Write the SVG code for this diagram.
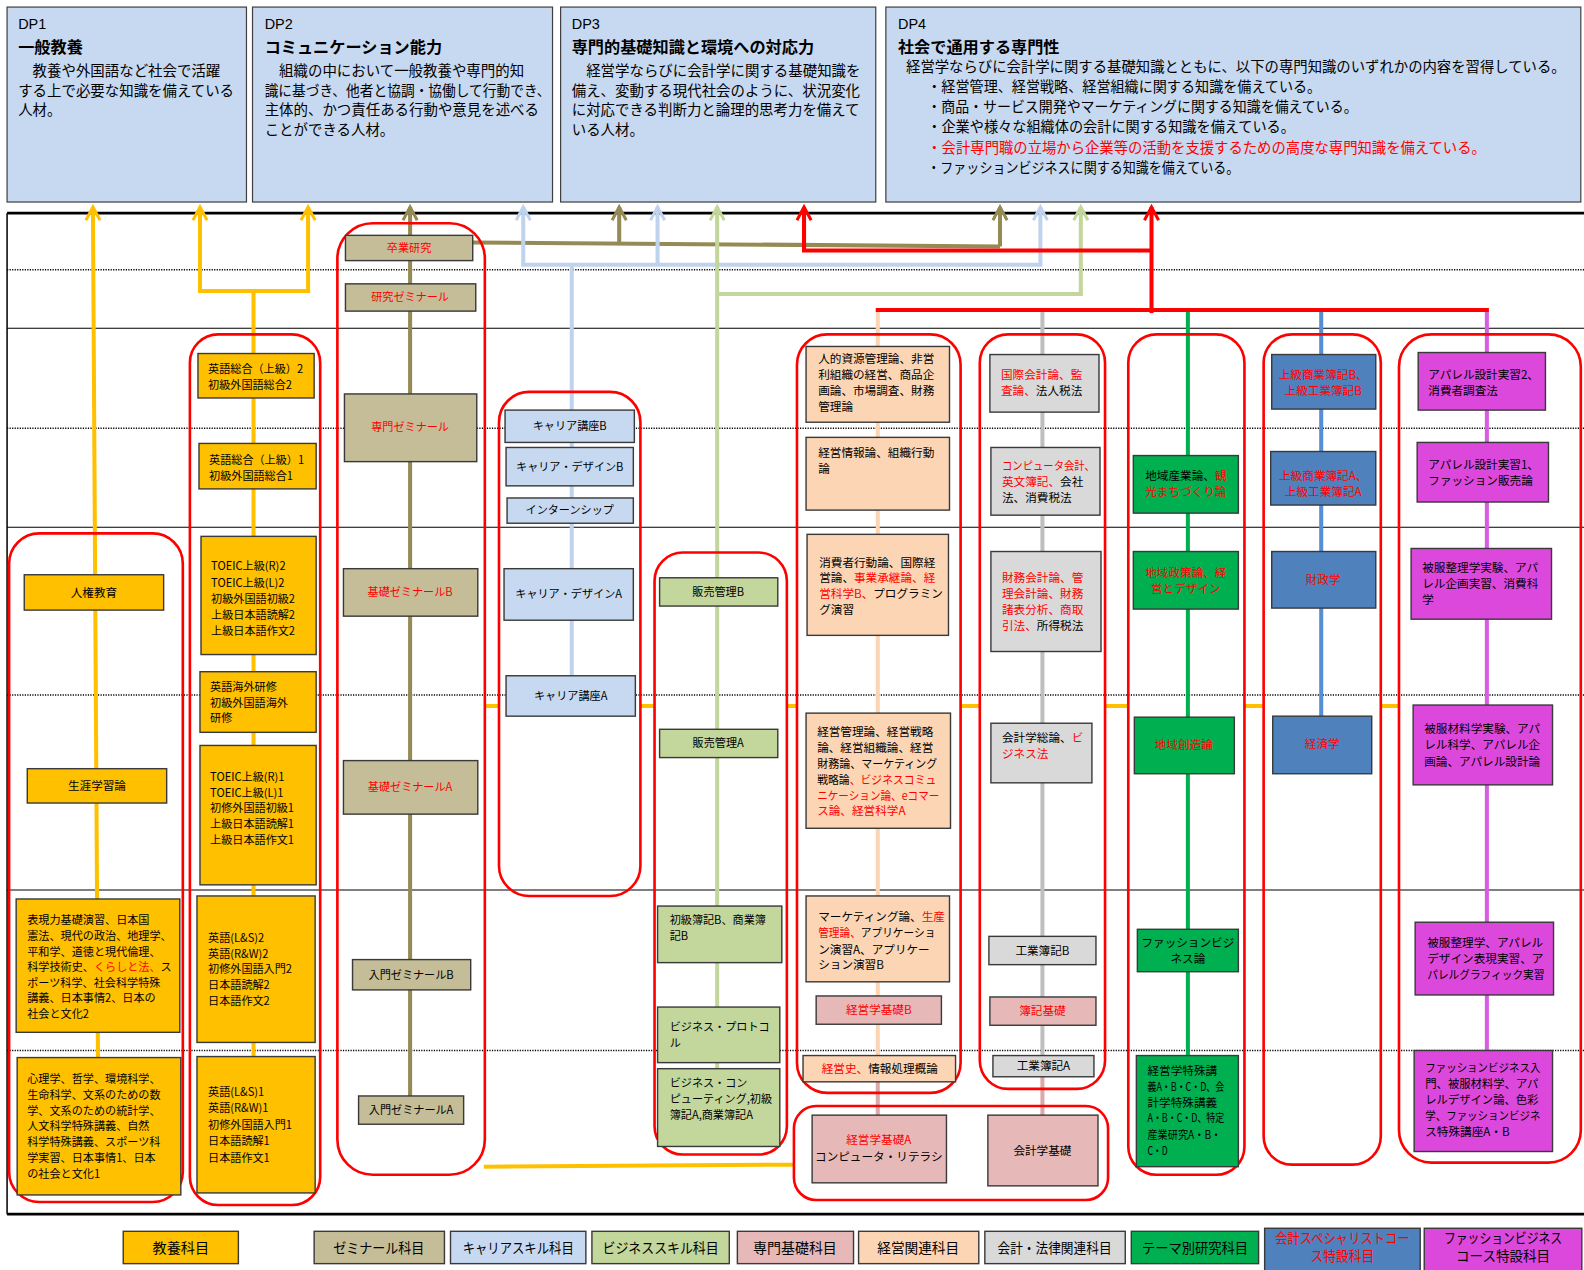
<svg xmlns="http://www.w3.org/2000/svg" width="1584" height="1270" viewBox="0 0 1584 1270">
<style>
text{font-family:"Noto Sans CJK JP","Noto Sans",sans-serif;fill:#000}
.lat{font-family:"Liberation Sans",Arial,sans-serif}
.t{font-size:11px}
.t2{font-size:11.5px}
.c{text-anchor:middle}
.r{fill:#ff0000}
.dpt{font-size:14.3px}
.dph{font-size:16px;font-weight:bold}
.dp{fill:#c6d9f0;stroke:#404040;stroke-width:1.2}
.grp{fill:none;stroke:#ff0000;stroke-width:2.6}
.bx{stroke:#3a3a3a;stroke-width:1.4}
.o{fill:#ffc000}.ol{fill:#c4bd97}.cb{fill:#c6d9f0}.bs{fill:#c3d69b}.pk{fill:#e6b9b8}.pc{fill:#fcd5b4}.gy{fill:#d9d9d9}.gn{fill:#00b050}.bl{fill:#4f81bd}.mg{fill:#dc48dc}
.grid{stroke:#000;stroke-width:1;fill:none}
.dot{stroke:#000;stroke-width:1.5;stroke-dasharray:1.2 1.3;fill:none}
.frame{stroke:#000;fill:none}
.ln{fill:none;stroke-width:4}
.lo{stroke:#ffc000}.lol{stroke:#948a54}.lcb{stroke:#bfd3ee}.lbs{stroke:#c3d69b}.lpc{stroke:#fcd5b4}.lpk{stroke:#dba9a8}.lgy{stroke:#bfbfbf}.lgn{stroke:#00b050}.lbl{stroke:#558ed5}.lmg{stroke:#d65ee0}.lr{stroke:#ff0000}
.lg{font-size:14px}
</style>
<defs>
<marker id="ao" markerUnits="userSpaceOnUse" markerWidth="18" markerHeight="18" refX="14" refY="9" orient="auto" overflow="visible"><path d="M1,2 L14,9 L1,16" fill="none" stroke="#ffc000" stroke-width="3"/></marker>
<marker id="aol" markerUnits="userSpaceOnUse" markerWidth="18" markerHeight="18" refX="14" refY="9" orient="auto" overflow="visible"><path d="M1,2 L14,9 L1,16" fill="none" stroke="#948a54" stroke-width="3"/></marker>
<marker id="acb" markerUnits="userSpaceOnUse" markerWidth="18" markerHeight="18" refX="14" refY="9" orient="auto" overflow="visible"><path d="M1,2 L14,9 L1,16" fill="none" stroke="#bfd3ee" stroke-width="3"/></marker>
<marker id="abs" markerUnits="userSpaceOnUse" markerWidth="18" markerHeight="18" refX="14" refY="9" orient="auto" overflow="visible"><path d="M1,2 L14,9 L1,16" fill="none" stroke="#c3d69b" stroke-width="3"/></marker>
<marker id="ar" markerUnits="userSpaceOnUse" markerWidth="18" markerHeight="18" refX="14" refY="9" orient="auto" overflow="visible"><path d="M1,2 L14,9 L1,16" fill="none" stroke="#ff0000" stroke-width="3"/></marker>
</defs>
<rect x="0" y="0" width="1584" height="1270" fill="#fff"/>
<g transform="scale(1.0101)">

<g id="dp1"><rect class="dp" x="7" y="7" width="237" height="193"/>
<text class="lat dpt" x="18" y="29">DP1</text>
<text class="dph" x="18" y="52">一般教養</text>
<text class="dpt" x="18" y="75">　教養や外国語など社会で活躍</text>
<text class="dpt" x="18" y="95">する上で必要な知識を備えている</text>
<text class="dpt" x="18" y="114">人材。</text></g>

<g id="dp2"><rect class="dp" x="250" y="7" width="297" height="193"/>
<text class="lat dpt" x="262" y="29">DP2</text>
<text class="dph" x="262" y="52">コミュニケーション能力</text>
<text class="dpt" x="262" y="75">　組織の中において一般教養や専門的知</text>
<text class="dpt" x="262" y="95" textLength="283" lengthAdjust="spacingAndGlyphs">識に基づき、他者と協調・協働して行動でき、</text>
<text class="dpt" x="262" y="114">主体的、かつ責任ある行動や意見を述べる</text>
<text class="dpt" x="262" y="134">ことができる人材。</text></g>

<g id="dp3"><rect class="dp" x="555" y="7" width="312" height="193"/>
<text class="lat dpt" x="566" y="29">DP3</text>
<text class="dph" x="566" y="52">専門的基礎知識と環境への対応力</text>
<text class="dpt" x="566" y="75">　経営学ならびに会計学に関する基礎知識を</text>
<text class="dpt" x="566" y="95">備え、変動する現代社会のように、状況変化</text>
<text class="dpt" x="566" y="114">に対応できる判断力と論理的思考力を備えて</text>
<text class="dpt" x="566" y="134">いる人材。</text></g>

<g id="dp4"><rect class="dp" x="877" y="7" width="688" height="193"/>
<text class="lat dpt" x="889" y="29">DP4</text>
<text class="dph" x="889" y="52">社会で通用する専門性</text>
<text class="dpt" x="897" y="71" textLength="653" lengthAdjust="spacingAndGlyphs">経営学ならびに会計学に関する基礎知識とともに、以下の専門知識のいずれかの内容を習得している。</text>
<text class="dpt" x="918" y="91" textLength="390" lengthAdjust="spacingAndGlyphs">・経営管理、経営戦略、経営組織に関する知識を備えている。</text>
<text class="dpt" x="918" y="111" textLength="426" lengthAdjust="spacingAndGlyphs">・商品・サービス開発やマーケティングに関する知識を備えている。</text>
<text class="dpt" x="918" y="131" textLength="364" lengthAdjust="spacingAndGlyphs">・企業や様々な組織体の会計に関する知識を備えている。</text>
<text class="dpt r" x="918" y="151" textLength="553" lengthAdjust="spacingAndGlyphs">・会計専門職の立場から企業等の活動を支援するための高度な専門知識を備えている。</text>
<text class="dpt" x="918" y="171" textLength="309" lengthAdjust="spacingAndGlyphs">・ファッションビジネスに関する知識を備えている。</text></g>

<g id="grid">
<path class="frame" stroke-width="2.6" d="M7,211 H1570 M7,1202 H1570"/>
<path class="frame" stroke-width="1.5" d="M7,211 V1202"/>
<path class="grid" d="M7,325 H1570 M7,522 H1570 M7,881 H1570"/>
<path class="dot" d="M7,267 H1570 M7,424 H1570 M7,688 H1570 M7,1040 H1570"/>
</g>

<g id="connectors">
<path class="ln lo" d="M97,1047 L92,205" marker-end="url(#ao)"/>
<path class="ln lo" d="M251,1046 V288"/>
<path class="ln lo" d="M196,288 H307" stroke-width="5"/>
<path class="ln lo" d="M198,288 V205" marker-end="url(#ao)"/>
<path class="ln lo" d="M305,288 V205" marker-end="url(#ao)"/>
<path class="ln lo" d="M480,699 H494 M634,699 H648 M779,699 H789 M951,699 H970 M1094,699 H1117 M1232,699 H1251 M1367,699 H1385"/>
<path class="ln lo" d="M479,1155 L786,1153"/>
<path class="ln lol" d="M406,1099 V205" marker-end="url(#aol)"/>
<path class="ln lol" d="M468,240 L990,244" stroke-width="6"/>
<path class="ln lol" d="M613,241 V205" marker-end="url(#aol)"/>
<path class="ln lol" d="M990,244 V205" marker-end="url(#aol)"/>
<path class="ln lcb" d="M566,690 V262"/>
<path class="ln lcb" d="M516,262 H1032" stroke-width="5"/>
<path class="ln lcb" d="M518,262 V205" marker-end="url(#acb)"/>
<path class="ln lcb" d="M651,262 V205" marker-end="url(#acb)"/>
<path class="ln lcb" d="M1030,262 V205" marker-end="url(#acb)"/>
<path class="ln lbs" d="M710,1060 V205" marker-end="url(#abs)"/>
<path class="ln lbs" d="M710,291 H1072" stroke-width="5"/>
<path class="ln lbs" d="M1070,291 V205" marker-end="url(#abs)"/>
<path class="ln lpc" d="M869,1045 V307"/>
<path class="ln lpk" d="M869,1071 V1104 M1032,1066 V1104"/>
<path class="ln lgy" d="M1032,1046 V307"/>
<path class="ln lgn" d="M1176,1045 V307"/>
<path class="ln lbl" d="M1308,709 V307"/>
<path class="ln lmg" d="M1472,1040 V307"/>
<path class="ln lr" d="M867,307 H1474" stroke-width="6"/>
<path class="ln lr" d="M1140,310 V205" stroke-width="4.5" marker-end="url(#ar)"/>
<path class="ln lr" d="M1140,248 H794" stroke-width="5"/>
<path class="ln lr" d="M796,248 V205" stroke-width="4" marker-end="url(#ar)"/>
</g>

<g id="col-general">
<rect class="grp" x="9" y="528" width="172" height="662" rx="30"/>
<g id="n-jinken"><rect class="bx o" x="24" y="569" width="138" height="35"/><text class="t2 c" x="93" y="591">人権教育</text></g>
<g id="n-shogai"><rect class="bx o" x="27" y="761" width="138" height="34"/><text class="t2 c" x="96" y="782">生涯学習論</text></g>
<g id="n-hyogen"><rect class="bx o" x="16" y="890" width="162" height="132"/>
<text class="t" x="27" y="915">表現力基礎演習、日本国</text>
<text class="t" x="27" y="931">憲法、現代の政治、地理学、</text>
<text class="t" x="27" y="946">平和学、道徳と現代倫理、</text>
<text class="t" x="27" y="961">科学技術史、<tspan class="r">くらしと法、</tspan>ス</text>
<text class="t" x="27" y="977">ポーツ科学、社会科学特殊</text>
<text class="t" x="27" y="992">講義、日本事情2、日本の</text>
<text class="t" x="27" y="1008">社会と文化2</text></g>
<g id="n-shinri"><rect class="bx o" x="17" y="1047" width="162" height="136"/>
<text class="t" x="27" y="1072">心理学、哲学、環境科学、</text>
<text class="t" x="27" y="1088">生命科学、文系のための数</text>
<text class="t" x="27" y="1104">学、文系のための統計学、</text>
<text class="t" x="27" y="1119">人文科学特殊講義、自然</text>
<text class="t" x="27" y="1135">科学特殊講義、スポーツ科</text>
<text class="t" x="27" y="1150">学実習、日本事情1、日本</text>
<text class="t" x="27" y="1166">の社会と文化1</text></g>
</g>

<g id="col-language">
<rect class="grp" x="188" y="331" width="129" height="862" rx="28"/>
<g id="n-eigo2"><rect class="bx o" x="196" y="350" width="115" height="44"/>
<text class="t" x="206" y="369">英語総合（上級）2</text><text class="t" x="206" y="385">初級外国語総合2</text></g>
<g id="n-eigo1"><rect class="bx o" x="197" y="439" width="116" height="45"/>
<text class="t" x="207" y="459">英語総合（上級）1</text><text class="t" x="207" y="475">初級外国語総合1</text></g>
<g id="n-toeic2"><rect class="bx o" x="199" y="531" width="114" height="117"/>
<text class="t" x="209" y="564">TOEIC上級(R)2</text><text class="t" x="209" y="581">TOEIC上級(L)2</text><text class="t" x="209" y="597">初級外国語初級2</text><text class="t" x="209" y="613">上級日本語読解2</text><text class="t" x="209" y="629">上級日本語作文2</text></g>
<g id="n-kaigai"><rect class="bx o" x="198" y="665" width="115" height="60"/>
<text class="t" x="208" y="684">英語海外研修</text><text class="t" x="208" y="700">初級外国語海外</text><text class="t" x="208" y="715">研修</text></g>
<g id="n-toeic1"><rect class="bx o" x="198" y="738" width="115" height="138"/>
<text class="t" x="208" y="773">TOEIC上級(R)1</text><text class="t" x="208" y="789">TOEIC上級(L)1</text><text class="t" x="208" y="804">初修外国語初級1</text><text class="t" x="208" y="820">上級日本語読解1</text><text class="t" x="208" y="836">上級日本語作文1</text></g>
<g id="n-ls2"><rect class="bx o" x="195" y="887" width="117" height="145"/>
<text class="t" x="206" y="933">英語(L&amp;S)2</text><text class="t" x="206" y="948">英語(R&amp;W)2</text><text class="t" x="206" y="963">初修外国語入門2</text><text class="t" x="206" y="979">日本語読解2</text><text class="t" x="206" y="995">日本語作文2</text></g>
<g id="n-ls1"><rect class="bx o" x="195" y="1046" width="117" height="135"/>
<text class="t" x="206" y="1085">英語(L&amp;S)1</text><text class="t" x="206" y="1101">英語(R&amp;W)1</text><text class="t" x="206" y="1118">初修外国語入門1</text><text class="t" x="206" y="1134">日本語読解1</text><text class="t" x="206" y="1150">日本語作文1</text></g>
</g>

<g id="col-seminar">
<rect class="grp" x="334" y="221" width="146" height="942" rx="35"/>
<g id="n-sotsugyo"><rect class="bx ol" x="342" y="233" width="126" height="25"/><text class="t c r" x="405" y="249">卒業研究</text></g>
<g id="n-kenkyu"><rect class="bx ol" x="342" y="281" width="129" height="27"/><text class="t c r" x="406" y="298">研究ゼミナール</text></g>
<g id="n-senmon"><rect class="bx ol" x="341" y="390" width="131" height="67"/><text class="t c r" x="406" y="427">専門ゼミナール</text></g>
<g id="n-kisoB"><rect class="bx ol" x="340" y="563" width="133" height="47"/><text class="t c r" x="406" y="590">基礎ゼミナールB</text></g>
<g id="n-kisoA"><rect class="bx ol" x="340" y="753" width="133" height="53"/><text class="t c r" x="406" y="783">基礎ゼミナールA</text></g>
<g id="n-nyumonB"><rect class="bx ol" x="349" y="950" width="117" height="30"/><text class="t c" x="407" y="969">入門ゼミナールB</text></g>
<g id="n-nyumonA"><rect class="bx ol" x="355" y="1085" width="104" height="28"/><text class="t c" x="407" y="1103">入門ゼミナールA</text></g>
</g>

<g id="col-career">
<rect class="grp" x="494" y="388" width="140" height="499" rx="30"/>
<g id="n-koza-b"><rect class="bx cb" x="500" y="406" width="128" height="32"/><text class="t c" x="564" y="426">キャリア講座B</text></g>
<g id="n-design-b"><rect class="bx cb" x="501" y="443" width="126" height="38"/><text class="t c" x="564" y="466">キャリア・デザインB</text></g>
<g id="n-intern"><rect class="bx cb" x="502" y="493" width="125" height="25"/><text class="t c" x="564" y="509">インターンシップ</text></g>
<g id="n-design-a"><rect class="bx cb" x="499" y="563" width="128" height="51"/><text class="t c" x="563" y="592">キャリア・デザインA</text></g>
<g id="n-koza-a"><rect class="bx cb" x="501" y="669" width="128" height="40"/><text class="t c" x="565" y="693">キャリア講座A</text></g>
</g>

<g id="col-business">
<rect class="grp" x="648" y="547" width="131" height="596" rx="28"/>
<g id="n-hanbaiB"><rect class="bx bs" x="653" y="572" width="117" height="28"/><text class="t c" x="711" y="590">販売管理B</text></g>
<g id="n-hanbaiA"><rect class="bx bs" x="653" y="722" width="117" height="28"/><text class="t c" x="711" y="740">販売管理A</text></g>
<g id="n-bokiB"><rect class="bx bs" x="651" y="897" width="123" height="56"/><text class="t" x="663" y="915">初級簿記B、商業簿</text><text class="t" x="663" y="931">記B</text></g>
<g id="n-protocol"><rect class="bx bs" x="651" y="997" width="121" height="55"/><text class="t" x="663" y="1021">ビジネス・プロトコ</text><text class="t" x="663" y="1037">ル</text></g>
<g id="n-computing"><rect class="bx bs" x="651" y="1058" width="121" height="77"/><text class="t" x="663" y="1076">ビジネス・コン</text><text class="t" x="663" y="1092">ピューティング,初級</text><text class="t" x="663" y="1108">簿記A,商業簿記A</text></g>
</g>

<g id="col-management">
<rect class="grp" x="789" y="331" width="162" height="751" rx="30"/>
<g id="n-m1"><rect class="bx pc" x="798" y="343" width="142" height="75"/>
<text class="t2" x="810" y="359">人的資源管理論、非営</text><text class="t2" x="810" y="375">利組織の経営、商品企</text><text class="t2" x="810" y="391">画論、市場調査、財務</text><text class="t2" x="810" y="407">管理論</text></g>
<g id="n-m2"><rect class="bx pc" x="798" y="433" width="142" height="72"/>
<text class="t2" x="810" y="452">経営情報論、組織行動</text><text class="t2" x="810" y="468">論</text></g>
<g id="n-m3"><rect class="bx pc" x="799" y="529" width="140" height="100"/>
<text class="t2" x="811" y="561">消費者行動論、国際経</text><text class="t2" x="811" y="576">営論、<tspan class="r">事業承継論、経</tspan></text><text class="t2" x="811" y="592"><tspan class="r">営科学B、</tspan>プログラミン</text><text class="t2" x="811" y="608">グ演習</text></g>
<g id="n-m4"><rect class="bx pc" x="798" y="706" width="143" height="114"/>
<text class="t2" x="809" y="729">経営管理論、経営戦略</text><text class="t2" x="809" y="744">論、経営組織論、経営</text><text class="t2" x="809" y="760" textLength="119" lengthAdjust="spacingAndGlyphs">財務論、マーケティング</text><text class="t2" x="809" y="776" textLength="118" lengthAdjust="spacingAndGlyphs">戦略論<tspan class="r">、ビジネスコミュ</tspan></text><text class="t2 r" x="809" y="792" textLength="121" lengthAdjust="spacingAndGlyphs">ニケーション論、eコマー</text><text class="t2 r" x="809" y="807">ス論、経営科学A</text></g>
<g id="n-m5"><rect class="bx pc" x="798" y="887" width="142" height="85"/>
<text class="t2" x="810" y="912">マーケティング論、<tspan class="r">生産</tspan></text><text class="t2" x="810" y="928" textLength="116" lengthAdjust="spacingAndGlyphs"><tspan class="r">管理論、</tspan>アプリケーショ</text><text class="t2" x="810" y="944">ン演習A、アプリケー</text><text class="t2" x="810" y="959">ション演習B</text></g>
<g id="n-kisoB-m"><rect class="bx pk" x="808" y="986" width="124" height="28"/><text class="t2 c r" x="870" y="1004">経営学基礎B</text></g>
<g id="n-keieishi"><rect class="bx pc" x="795" y="1045" width="151" height="26"/><text class="t2 c" x="871" y="1062"><tspan class="r">経営史、</tspan>情報処理概論</text></g>
</g>

<g id="col-accounting">
<rect class="grp" x="970" y="331" width="124" height="747" rx="28"/>
<g id="n-a1"><rect class="bx gy" x="980" y="351" width="108" height="57"/>
<text class="t2" x="991" y="375"><tspan class="r">国際会計論、監</tspan></text><text class="t2" x="991" y="391"><tspan class="r">査論、</tspan>法人税法</text></g>
<g id="n-a2"><rect class="bx gy" x="981" y="443" width="108" height="67"/>
<text class="t2 r" x="992" y="465" textLength="92" lengthAdjust="spacingAndGlyphs">コンピュータ会計、</text><text class="t2" x="992" y="481"><tspan class="r">英文簿記、</tspan>会社</text><text class="t2" x="992" y="497">法、消費税法</text></g>
<g id="n-a3"><rect class="bx gy" x="981" y="546" width="109" height="99"/>
<text class="t2 r" x="992" y="576">財務会計論、管</text><text class="t2 r" x="992" y="592">理会計論、財務</text><text class="t2 r" x="992" y="608">諸表分析、商取</text><text class="t2" x="992" y="624"><tspan class="r">引法、</tspan>所得税法</text></g>
<g id="n-a4"><rect class="bx gy" x="981" y="716" width="100" height="59"/>
<text class="t2" x="992" y="735">会計学総論、<tspan class="r">ビ</tspan></text><text class="t2 r" x="992" y="750">ジネス法</text></g>
<g id="n-kogyoB"><rect class="bx gy" x="979" y="927" width="106" height="28"/><text class="t2 c" x="1032" y="945">工業簿記B</text></g>
<g id="n-bokikiso"><rect class="bx pk" x="980" y="987" width="105" height="28"/><text class="t2 c r" x="1032" y="1005">簿記基礎</text></g>
<g id="n-kogyoA"><rect class="bx gy" x="983" y="1045" width="100" height="21"/><text class="t2 c" x="1033" y="1059">工業簿記A</text></g>
</g>

<g id="col-basic">
<rect class="grp" x="786" y="1095" width="311" height="93" rx="22"/>
<g id="n-kisoA-m"><rect class="bx pk" x="804" y="1104" width="133" height="67"/><text class="t2 c r" x="870" y="1133">経営学基礎A</text><text class="t2 c" x="870" y="1149">コンピュータ・リテラシ</text></g>
<g id="n-kaikeikiso"><rect class="bx pk" x="978" y="1104" width="109" height="70"/><text class="t2 c" x="1032" y="1143">会計学基礎</text></g>
</g>

<g id="col-theme">
<rect class="grp" x="1117" y="331" width="115" height="832" rx="28"/>
<g id="n-t1"><rect class="bx gn" x="1122" y="451" width="104" height="57"/><text class="t2 c" x="1174" y="475">地域産業論、<tspan class="r">観</tspan></text><text class="t2 c r" x="1174" y="491">光まちづくり論</text></g>
<g id="n-t2"><rect class="bx gn" x="1122" y="546" width="104" height="57"/><text class="t2 c r" x="1174" y="571">地域政策論、経</text><text class="t2 c r" x="1174" y="587">営とデザイン</text></g>
<g id="n-t3"><rect class="bx gn" x="1123" y="710" width="99" height="56"/><text class="t2 c r" x="1172" y="742">地域創造論</text></g>
<g id="n-t4"><rect class="bx gn" x="1126" y="920" width="100" height="42"/><text class="t2 c" x="1176" y="938">ファッションビジ</text><text class="t2 c" x="1176" y="953">ネス論</text></g>
<g id="n-t5"><rect class="bx gn" x="1125" y="1045" width="101" height="110"/>
<text class="t2" x="1136" y="1064">経営学特殊講</text>
<text class="t2" x="1136" y="1080" textLength="76" lengthAdjust="spacingAndGlyphs">義A・B・C・D、会</text>
<text class="t2" x="1136" y="1096">計学特殊講義</text>
<text class="t2" x="1136" y="1111" textLength="76" lengthAdjust="spacingAndGlyphs">A・B・C・D、特定</text>
<text class="t2" x="1136" y="1128" textLength="73" lengthAdjust="spacingAndGlyphs">産業研究A・B・</text>
<text class="t2" x="1136" y="1143" textLength="20" lengthAdjust="spacingAndGlyphs">C・D</text></g>
</g>

<g id="col-accspec">
<rect class="grp" x="1251" y="331" width="116" height="822" rx="28"/>
<g id="n-j1"><rect class="bx bl" x="1259" y="351" width="103" height="54"/><text class="t2 c r" x="1310" y="375">上級商業簿記B、</text><text class="t2 c r" x="1310" y="391">上級工業簿記B</text></g>
<g id="n-j2"><rect class="bx bl" x="1258" y="447" width="104" height="53"/><text class="t2 c r" x="1310" y="475">上級商業簿記A、</text><text class="t2 c r" x="1310" y="491">上級工業簿記A</text></g>
<g id="n-j3"><rect class="bx bl" x="1259" y="546" width="103" height="56"/><text class="t2 c r" x="1310" y="578">財政学</text></g>
<g id="n-j4"><rect class="bx bl" x="1260" y="709" width="98" height="57"/><text class="t2 c r" x="1309" y="741">経済学</text></g>
</g>

<g id="col-fashion">
<rect class="grp" x="1385" y="331" width="180" height="820" rx="32"/>
<g id="n-f1"><rect class="bx mg" x="1404" y="349" width="126" height="57"/><text class="t2" x="1414" y="375">アパレル設計実習2、</text><text class="t2" x="1414" y="391">消費者調査法</text></g>
<g id="n-f2"><rect class="bx mg" x="1403" y="438" width="130" height="59"/><text class="t2" x="1414" y="464">アパレル設計実習1、</text><text class="t2" x="1414" y="480">ファッション販売論</text></g>
<g id="n-f3"><rect class="bx mg" x="1397" y="543" width="139" height="70"/><text class="t2" x="1408" y="566">被服整理学実験、アパ</text><text class="t2" x="1408" y="582">レル企画実習、消費科</text><text class="t2" x="1408" y="598">学</text></g>
<g id="n-f4"><rect class="bx mg" x="1399" y="698" width="138" height="79"/><text class="t2" x="1410" y="726">被服材料学実験、アパ</text><text class="t2" x="1410" y="742">レル科学、アパレル企</text><text class="t2" x="1410" y="758">画論、アパレル設計論</text></g>
<g id="n-f5"><rect class="bx mg" x="1401" y="913" width="137" height="72"/><text class="t2" x="1413" y="938">被服整理学、アパレル</text><text class="t2" x="1413" y="953">デザイン表現実習、ア</text><text class="t2" x="1413" y="969" textLength="116" lengthAdjust="spacingAndGlyphs">パレルグラフィック実習</text></g>
<g id="n-f6"><rect class="bx mg" x="1400" y="1040" width="137" height="100"/><text class="t2" x="1411" y="1061" textLength="114" lengthAdjust="spacingAndGlyphs">ファッションビジネス入</text><text class="t2" x="1411" y="1077" textLength="112" lengthAdjust="spacingAndGlyphs">門、被服材料学、アパ</text><text class="t2" x="1411" y="1093" textLength="112" lengthAdjust="spacingAndGlyphs">レルデザイン論、色彩</text><text class="t2" x="1411" y="1109" textLength="114" lengthAdjust="spacingAndGlyphs">学、ファッションビジネ</text><text class="t2" x="1411" y="1125">ス特殊講座A・B</text></g>
</g>

<g id="legend">
<g id="lg1"><rect class="bx o" x="122" y="1219" width="114" height="32"/><text class="lg c" x="179" y="1240">教養科目</text></g>
<g id="lg2"><rect class="bx ol" x="311" y="1219" width="129" height="32"/><text class="lg c" x="375" y="1240" textLength="90" lengthAdjust="spacingAndGlyphs">ゼミナール科目</text></g>
<g id="lg3"><rect class="bx cb" x="446" y="1219" width="134" height="32"/><text class="lg c" x="513" y="1240" textLength="110" lengthAdjust="spacingAndGlyphs">キャリアスキル科目</text></g>
<g id="lg4"><rect class="bx bs" x="586" y="1219" width="136" height="32"/><text class="lg c" x="654" y="1240" textLength="115" lengthAdjust="spacingAndGlyphs">ビジネススキル科目</text></g>
<g id="lg5"><rect class="bx pk" x="730" y="1219" width="115" height="32"/><text class="lg c" x="787" y="1240" textLength="83" lengthAdjust="spacingAndGlyphs">専門基礎科目</text></g>
<g id="lg6"><rect class="bx pc" x="850" y="1219" width="119" height="32"/><text class="lg c" x="909" y="1240" textLength="81" lengthAdjust="spacingAndGlyphs">経営関連科目</text></g>
<g id="lg7"><rect class="bx gy" x="975" y="1219" width="139" height="32"/><text class="lg c" x="1044" y="1240" textLength="113" lengthAdjust="spacingAndGlyphs">会計・法律関連科目</text></g>
<g id="lg8"><rect class="bx gn" x="1120" y="1219" width="126" height="32"/><text class="lg c" x="1183" y="1240" textLength="105" lengthAdjust="spacingAndGlyphs">テーマ別研究科目</text></g>
<g id="lg9"><rect class="bx bl" x="1252" y="1216" width="154" height="56"/><text class="lg c r" x="1329" y="1231" textLength="133" lengthAdjust="spacingAndGlyphs">会計スペシャリストコー</text><text class="lg c r" x="1329" y="1248" textLength="63" lengthAdjust="spacingAndGlyphs">ス特設科目</text></g>
<g id="lg10"><rect class="bx mg" x="1410" y="1216" width="156" height="56"/><text class="lg c" x="1488" y="1231" textLength="117" lengthAdjust="spacingAndGlyphs">ファッションビジネス</text><text class="lg c" x="1488" y="1248" textLength="93" lengthAdjust="spacingAndGlyphs">コース特設科目</text></g>
</g>

</g>
</svg>
